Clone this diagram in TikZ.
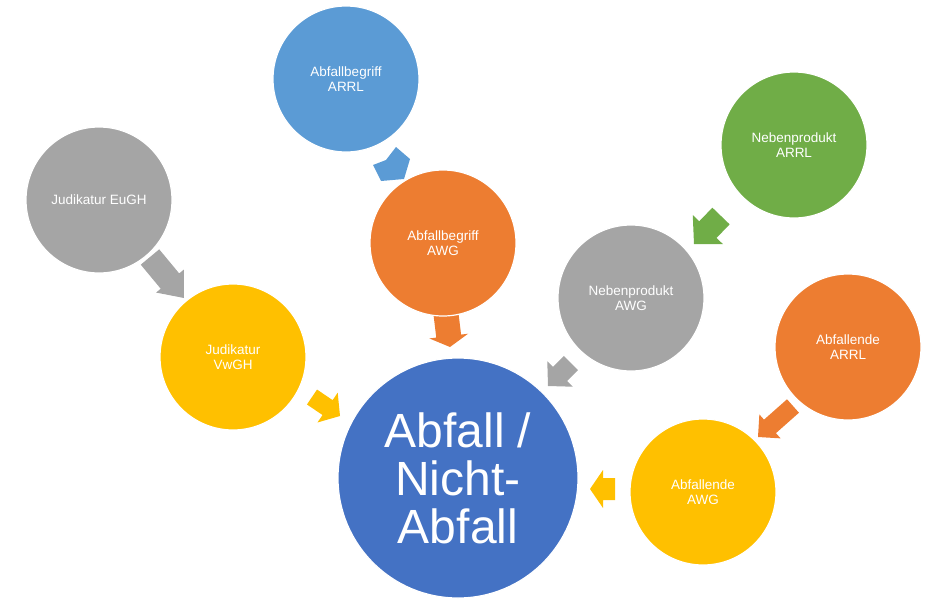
\documentclass[tikz,border=0pt]{standalone}
\usepackage{fontspec}
\setmainfont{Liberation Sans}
\usetikzlibrary{calc}
\definecolor{cblue}{HTML}{5B9BD5}
\definecolor{corange}{HTML}{ED7D31}
\definecolor{cgray}{HTML}{A5A5A5}
\definecolor{cyellow}{HTML}{FFC000}
\definecolor{cgreen}{HTML}{70AD47}
\definecolor{cmain}{HTML}{4472C4}
\tikzset{
  bubble/.style={circle, minimum size=146pt, inner sep=0pt, draw=white, line width=1.2pt,
    text=white, align=center, font=\fontsize{13.5}{15}\selectfont},
  mainbubble/.style={bubble, minimum size=240pt, font=\fontsize{48}{48}\selectfont},
}
% #1 id, #2 head length, #3 head half width, #4 shaft half width, #5 colour
\newcommand{\blockarr}[5]{%
  \coordinate (#1-b) at ($(#1-tip)!#2!(#1-tail)$);
  \fill[#5] ($(#1-tail)!#4!90:(#1-tip)$) -- ($(#1-b)!#4!90:(#1-tip)$) -- ($(#1-b)!#3!90:(#1-tip)$)
    -- (#1-tip) -- ($(#1-b)!#3!-90:(#1-tip)$) -- ($(#1-b)!#4!-90:(#1-tip)$)
    -- ($(#1-tail)!#4!-90:(#1-tip)$) -- cycle;
}
\begin{document}
\begin{tikzpicture}[x=1pt,y=-1pt]
\useasboundingbox (0,0) rectangle (930,600);
% arrow end points
\coordinate (a1-tail) at (150,257); \coordinate (a1-tip) at (184,298);
\coordinate (a3-tail) at (446,314); \coordinate (a3-tip) at (450,347);
\coordinate (a4-tail) at (312,397); \coordinate (a4-tip) at (340,416);
\coordinate (a5-tail) at (571,363); \coordinate (a5-tip) at (548,386);
\coordinate (a6-tail) at (721,216); \coordinate (a6-tip) at (694,244);
\coordinate (a7-tail) at (793,406); \coordinate (a7-tip) at (758,437);
\coordinate (a8-tail) at (615,489); \coordinate (a8-tip) at (590,489);
\blockarr{a1}{22pt}{18pt}{12pt}{cgray}
\blockarr{a3}{11pt}{19.5pt}{12.5pt}{corange}
\blockarr{a4}{15pt}{18pt}{9pt}{cyellow}
\blockarr{a5}{17pt}{18pt}{10pt}{cgray}
\blockarr{a6}{20pt}{21pt}{12pt}{cgreen}
\blockarr{a7}{16pt}{16pt}{9pt}{corange}
\blockarr{a8}{13pt}{19pt}{11pt}{cyellow}
% blue arrow (partly hidden)
\coordinate (a2-p1) at (396,147); \coordinate (a2-p2) at (410,159);
\coordinate (a2-p3) at (404,179); \coordinate (a2-p4) at (381,181);
\coordinate (a2-p5) at (373,165); \coordinate (a2-p6) at (386,160);
\fill[cblue] (a2-p1) -- (a2-p2) -- (a2-p3) -- (a2-p4) -- (a2-p5) -- (a2-p6) -- cycle;
% circles
\node[bubble, fill=cblue] (abarrl) at (346,79) {Abfallbegriff\\ARRL};
\node[bubble, fill=corange] (abawg) at (443,243) {Abfallbegriff\\AWG};
\node[bubble, fill=cgray] (eugh) at (99,200) {Judikatur EuGH};
\node[bubble, fill=cyellow] (vwgh) at (233,357) {Judikatur\\VwGH};
\node[bubble, fill=cgreen] (nparrl) at (794,145) {Nebenprodukt\\ARRL};
\node[bubble, fill=cgray] (npawg) at (631,298) {Nebenprodukt\\AWG};
\node[bubble, fill=corange] (aearrl) at (848,347) {Abfallende\\ARRL};
\node[bubble, fill=cyellow] (aeawg) at (703,492) {Abfallende\\AWG};
\node[mainbubble, fill=cmain] (main) at (458,478) {Abfall /\\Nicht-\\Abfall};
\end{tikzpicture}
\end{document}
